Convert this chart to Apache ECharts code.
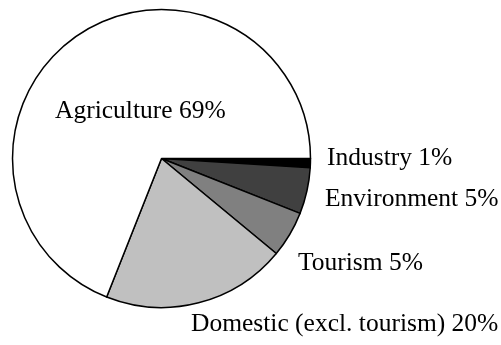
<!DOCTYPE html>
<html>
<head>
<meta charset="utf-8">
<script src="https://cdn.jsdelivr.net/npm/echarts@6/dist/echarts.min.js"></script>
<style>
html,body{margin:0;padding:0;background:#fff;}
#chart{width:501px;height:345px;}
</style>
</head>
<body>
<div id="chart"></div>
<script>
// Data
var categories = ['Industry', 'Environment', 'Tourism', 'Domestic (excl. tourism)', 'Agriculture'];
var values = [1, 5, 5, 20, 69];
var sliceColors = ['#000000', '#404040', '#808080', '#c0c0c0', '#ffffff'];
// label anchor points (left edge, vertical middle) in pixels
var labelPos = [[327, 158], [325, 199], [298, 263], [191, 324], [55, 111]];

var chart = echarts.init(document.getElementById('chart'), null, {renderer: 'canvas'});
var data = categories.map(function (c, i) {
  return {name: c, value: values[i], itemStyle: {color: sliceColors[i]}};
});
chart.setOption({
  animation: false,
  backgroundColor: '#ffffff',
  series: [{
    type: 'pie',
    center: [161.5, 158.5],
    radius: [0, 149],
    startAngle: 0,
    clockwise: true,
    avoidLabelOverlap: false,
    data: data,
    itemStyle: {borderColor: '#000000', borderWidth: 1.5},
    emphasis: {disabled: true},
    label: {
      show: true,
      position: 'outside',
      formatter: function (p) { return p.name + ' ' + p.value + '%'; },
      fontFamily: '"Liberation Serif", "Times New Roman", serif',
      fontSize: 25.5,
      color: '#000000'
    },
    labelLine: {show: false},
    labelLayout: function (params) {
      var p = labelPos[params.dataIndex];
      return {x: p[0], y: p[1], align: 'left', verticalAlign: 'middle'};
    }
  }]
});
</script>
</body>
</html>
